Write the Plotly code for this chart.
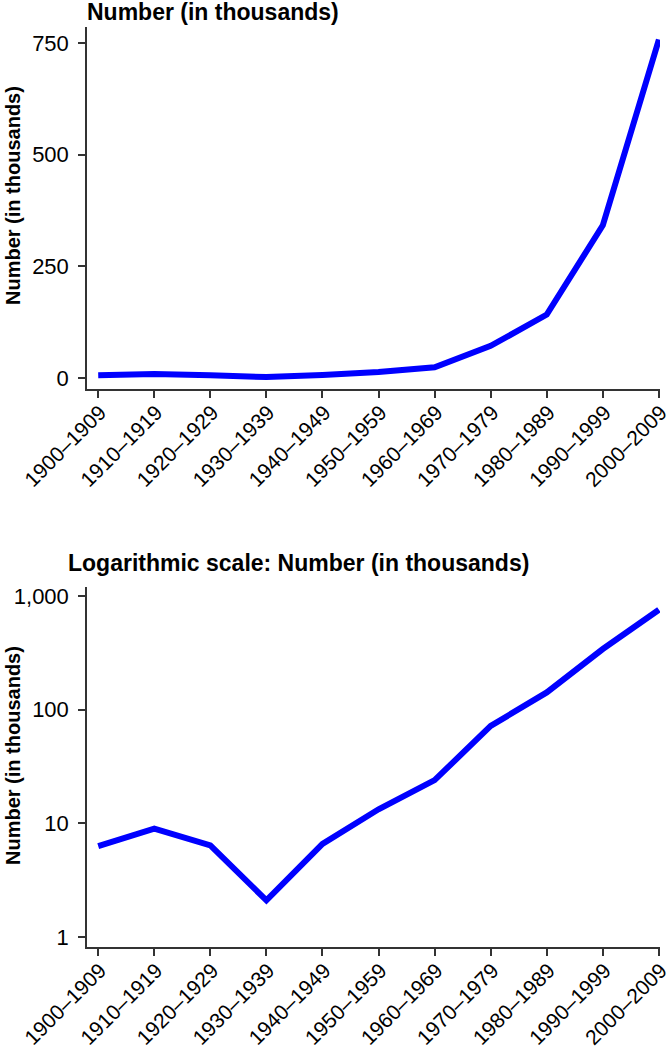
import plotly.graph_objects as go

# decades on the x axis
decades = ["1900–1909", "1910–1919", "1920–1929", "1930–1939", "1940–1949",
           "1950–1959", "1960–1969", "1970–1979", "1980–1989", "1990–1999",
           "2000–2009"]

# number (in thousands) per decade
number_k = [6.3, 9.0, 6.4, 2.1, 6.6, 13.3, 24, 72, 142, 342, 758]

top_ticks = [0, 250, 500, 750]
log_ticks = [1, 10, 100, 1000]
log_tick_text = ["1", "10", "100", "1,000"]

LINE_BLUE = "#0000FF"
AXIS_GREY = "#333333"
FONT = "Liberation Sans, Arial, sans-serif"

# margins and plot-area size in px
ML, MR, MT, MB = 87, 10, 27, 103
PW, PH = 670 - ML - MR, 1050 - MT - MB

fig = go.Figure()

fig.add_trace(go.Scatter(
    x=decades, y=number_k, mode="lines",
    line=dict(color=LINE_BLUE, width=6),
    xaxis="x", yaxis="y", showlegend=False, hoverinfo="skip",
))
fig.add_trace(go.Scatter(
    x=decades, y=number_k, mode="lines",
    line=dict(color=LINE_BLUE, width=6),
    xaxis="x2", yaxis="y2", showlegend=False, hoverinfo="skip",
))

axis_common = dict(
    showline=True, linecolor=AXIS_GREY, linewidth=1.5,
    ticks="outside", ticklen=7, tickcolor=AXIS_GREY, tickwidth=1.5,
    showgrid=False, zeroline=False, automargin=False,
    tickfont=dict(family=FONT, size=22, color="black"),
)
x_common = dict(type="category", range=[-0.2, 10.02], tickangle=-45,
                tickfont=dict(family=FONT, size=21, color="black"),
                ticklabelshift=2, ticklabelstandoff=-6)
y_common = dict(ticklabelstandoff=5)


def ann(text, x_px, y_px, size, angle=0, xanchor="left"):
    return dict(text=text, xref="paper", yref="paper",
                x=(x_px - ML) / PW, y=(1050 - MB - y_px) / PH,
                xanchor=xanchor, yanchor="middle", textangle=angle,
                showarrow=False, font=dict(family=FONT, size=size, color="black"))


fig.update_layout(
    width=670, height=1050,
    paper_bgcolor="white", plot_bgcolor="white",
    margin=dict(l=ML, r=MR, t=MT, b=MB),
    font=dict(family=FONT, color="black"),
    xaxis=dict(axis_common, **x_common, domain=[0, 1], anchor="y"),
    yaxis=dict(axis_common, **y_common, domain=[(947 - 389) / PH, 1], anchor="x",
               range=[-24.6, 786], tickvals=top_ticks),
    xaxis2=dict(axis_common, **x_common, domain=[0, 1], anchor="y2"),
    yaxis2=dict(axis_common, **y_common, domain=[0, (947 - 587) / PH], anchor="x2",
                type="log", range=[-0.088, 3.08],
                tickvals=log_ticks, ticktext=log_tick_text),
    annotations=[
        ann("<b>Number (in thousands)</b>", 85, 12, 23),
        ann("<b>Logarithmic scale: Number (in thousands)</b>", 66, 563, 23),
        ann("<b>Number (in thousands)</b>", 13, 196, 20, angle=-90, xanchor="center"),
        ann("<b>Number (in thousands)</b>", 13, 756, 20, angle=-90, xanchor="center"),
    ],
)

# drop the page's default body margin so the figure sits at the window's corner
fig.write_html("out.html", config={"displayModeBar": False},
               post_script="document.body.style.margin='0';")
